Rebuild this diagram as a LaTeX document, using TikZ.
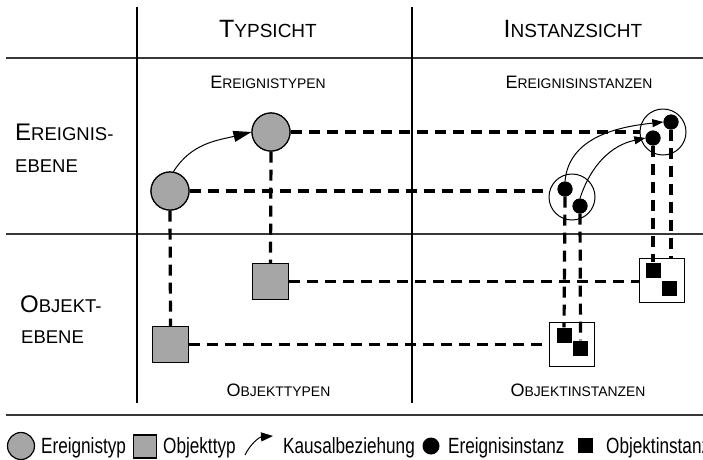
\documentclass[tikz,border=0pt]{standalone}
\usepackage{fontspec}
\setmainfont{Liberation Sans}
\usetikzlibrary{arrows.meta}
\definecolor{typgray}{RGB}{166,166,166}
\definecolor{gridc}{RGB}{55,55,55}
\newcommand\myHdrSC[1]{{\fontsize{19}{19}\selectfont #1}}
\newcommand\mySubSC[1]{{\fontsize{13.9}{14}\selectfont #1}}
\newcommand\mySideSC[1]{{\fontsize{18.5}{18.5}\selectfont #1}}
\begin{document}
\begin{tikzpicture}[x=1pt,y=1pt,
  gridline/.style={draw=gridc, line width=1.8pt},
  vgridline/.style={draw=black, line width=1.2pt},
  conn/.style={draw=black, line width=3.2pt, dash pattern=on 11pt off 7pt},
  etyp/.style={circle, draw=black, line width=1.2pt, fill=typgray, minimum size=38pt, inner sep=0pt},
  otyp/.style={rectangle, draw=black, line width=1.2pt, fill=typgray, minimum size=36pt, inner sep=0pt},
  einst/.style={circle, draw=black, line width=1pt, minimum size=46pt, inner sep=0pt},
  oinst/.style={rectangle, draw=black, line width=1pt, minimum width=45pt, minimum height=44pt, inner sep=0pt},
  edot/.style={circle, fill=black, minimum size=15pt, inner sep=0pt},
  osq/.style={rectangle, fill=black, minimum size=15pt, inner sep=0pt},
  causal/.style={draw=black, line width=1pt, -{Triangle[length=18pt,width=11pt]}},
  causalsm/.style={draw=black, line width=1pt, -{Triangle[length=11pt,width=8pt]}},
  hdr/.style={anchor=base, inner sep=0pt, font=\fontsize{25}{25}\selectfont},
  sublbl/.style={anchor=base, inner sep=0pt, font=\fontsize{18}{18}\selectfont},
  sidelbl/.style={anchor=base west, inner sep=0pt, font=\fontsize{24}{24}\selectfont},
  leg/.style={anchor=base west, inner sep=0pt, font=\fontsize{22}{22}\selectfont, xscale=0.78, transform shape},
]
\useasboundingbox (0,0) rectangle (703,-459);

% grid
\coordinate (gT0) at (6,-58);   \coordinate (gT1) at (703,-58);
\coordinate (gM0) at (6,-234);  \coordinate (gM1) at (703,-234);
\coordinate (gB0) at (6,-415);  \coordinate (gB1) at (703,-415);
\coordinate (gV0) at (137,-7);  \coordinate (gV1) at (137,-403);
\coordinate (gW0) at (412,-7);  \coordinate (gW1) at (412,-403);
\draw[gridline] (gT0) -- (gT1);
\draw[gridline] (gM0) -- (gM1);
\draw[gridline] (gB0) -- (gB1);
\draw[vgridline] (gV0) -- (gV1);
\draw[vgridline] (gW0) -- (gW1);

% headers
\node[hdr] (h1) at (268,-37) {T\myHdrSC{YPSICHT}};
\node[hdr] (h2) at (573,-37) {I\myHdrSC{NSTANZSICHT}};
\node[sublbl] (s1) at (268,-88) {E\mySubSC{REIGNISTYPEN}};
\node[sublbl] (s2) at (579,-88) {E\mySubSC{REIGNISINSTANZEN}};
\node[sublbl] (s3) at (278.5,-396) {O\mySubSC{BJEKTTYPEN}};
\node[sublbl] (s4) at (578,-396) {O\mySubSC{BJEKTINSTANZEN}};
\node[sidelbl] (l1) at (15,-140) {E\mySideSC{REIGNIS-}};
\node[sidelbl] (l2) at (15,-172) {\mySideSC{EBENE}};
\node[sidelbl] (l3) at (20,-312) {O\mySideSC{BJEKT-}};
\node[sidelbl] (l4) at (21,-343) {\mySideSC{EBENE}};

% nodes
\node[etyp] (et1) at (170,-191) {};
\node[etyp] (et2) at (271,-132) {};
\node[otyp] (ot1) at (170.5,-344.5) {};
\node[otyp] (ot2) at (270.5,-281.5) {};
\node[einst] (eA) at (572,-197) {};
\node[einst] (eB) at (663,-132) {};
\node[oinst] (oC) at (571.5,-344) {};
\node[oinst] (oD) at (662,-280) {};
\node[edot] (dA1) at (565,-189) {};
\node[edot] (dA2) at (580,-206) {};
\node[edot] (dB1) at (671,-122) {};
\node[edot] (dB2) at (653,-138) {};
\node[osq] (qC1) at (564,-335) {};
\node[osq] (qC2) at (580.5,-348) {};
\node[osq] (qD1) at (653,-270) {};
\node[osq] (qD2) at (669.5,-288) {};

% dashed connectors
\draw[conn] (et2.east) -- (et2.east -| eB.west);
\draw[conn] (et1.east) -- (et1.east -| eA.west);
\draw[conn] (ot2.east) -- (ot2.east -| oD.west);
\draw[conn] (ot1.east) -- (ot1.east -| oC.west);
\draw[conn] (et1.south) -- (ot1.north);
\draw[conn] (et2.south) -- (ot2.north);
\draw[conn] (dA1.south) -- (qC1.north);
\draw[conn] (dA2.south) -- (qC2.north);
\draw[conn] (dB2.south) -- (qD1.north);
\draw[conn] (dB1.south) -- (dB1.south |- oD.north);

% redraw shapes on top of dashes
\node[etyp] at (et1) {};
\node[etyp] at (et2) {};
\node[otyp] at (ot1) {};
\node[otyp] at (ot2) {};
\node[edot] at (dA1) {};
\node[edot] at (dA2) {};
\node[edot] at (dB1) {};
\node[edot] at (dB2) {};
\node[osq] at (qC1) {};
\node[osq] at (qC2) {};
\node[osq] at (qD1) {};
\node[osq] at (qD2) {};

% causal arrows
\draw[causal] (et1.80) to[out=58, in=194] (et2.west);
\draw[causalsm] (dA1.north) to[out=85, in=186] (dB1.west);
\draw[causalsm] (dA2.north) to[out=72, in=192] (dB2.west);

% legend
\node[etyp, minimum size=27pt] (lg1) at (21,-446) {};
\node[leg] (lt1) at (41,-453) {Ereignistyp};
\node[otyp, minimum size=23pt] (lg2) at (145,-446.5) {};
\node[leg] (lt2) at (163,-453) {Objekttyp};
\coordinate (la0) at (245,-455);
\coordinate (la1) at (273,-436);
\draw[draw=black, line width=1pt, -{Triangle[length=12pt,width=9pt]}] (la0) to[bend left=30] (la1);
\node[leg] (lt3) at (283,-453) {Kausalbeziehung};
\node[edot, minimum size=17pt] (lg4) at (431,-446) {};
\node[leg] (lt4) at (448,-453) {Ereignisinstanz};
\node[osq] (lg5) at (585.5,-445.5) {};
\node[leg] (lt5) at (606,-453) {Objektinstanz};
\end{tikzpicture}
\end{document}
